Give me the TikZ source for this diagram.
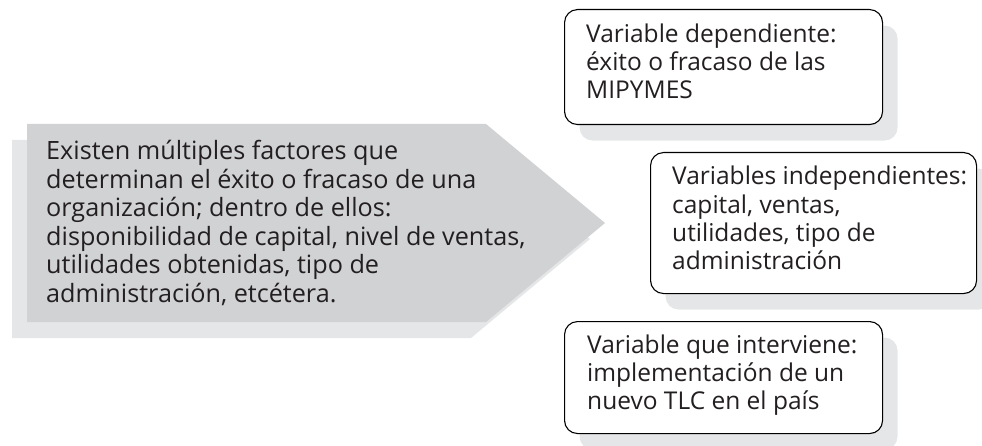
\documentclass[tikz,border=0pt]{standalone}
\usepackage{fontspec}
\setmainfont{Open Sans}
\usetikzlibrary{shadows}
\definecolor{arrowgray}{RGB}{209,210,212}
\definecolor{shadegray}{RGB}{229,230,231}
\definecolor{inkgray}{RGB}{35,31,32}
\tikzset{
  txt/.style={inner sep=0pt, anchor=base west, text=inkgray, font=\fontsize{24.5}{28.2}\selectfont},
  bigtxt/.style={txt, font=\fontsize{25.2}{28.5}\selectfont},
  boxshape/.style={draw=black, line width=1.1pt, fill=white, rounded corners=13pt, inner sep=0pt,
    anchor=north west,
    general shadow={fill=shadegray, draw=none, shadow xshift=15pt, shadow yshift=-16pt}},
}
\newcommand{\tlines}[2]{\parbox[t]{#1}{\raggedright #2}}
\begin{document}
\begin{tikzpicture}[x=1pt,y=-1pt]
\useasboundingbox (0,0) rectangle (982,446);
% big arrow with shadow
\fill[shadegray] (12,140) -- (471,140) -- (590,239) -- (471,338) -- (12,338) -- cycle;
\fill[arrowgray] (27,124) -- (486,124) -- (605,223) -- (486,322) -- (27,322) -- cycle;
\node[bigtxt] (factores) at (46,160) {\tlines{520pt}{Existen múltiples factores que\\determinan el éxito o fracaso de una\\organización; dentro de ellos:\\disponibilidad de capital, nivel de ventas,\\utilidades obtenidas, tipo de\\administración, etcétera.}};
% boxes
\node[boxshape, minimum width=318pt, minimum height=115pt] (dep) at (564,9) {};
\node[txt] (deptext) at (586,42.5) {\tlines{300pt}{Variable dependiente:\\éxito o fracaso de las\\MIPYMES}};
\node[boxshape, minimum width=326pt, minimum height=141pt] (ind) at (650,152) {};
\node[txt] (indtext) at (672,185) {\tlines{310pt}{Variables independientes:\\capital, ventas,\\utilidades, tipo de\\administración}};
\node[boxshape, minimum width=318pt, minimum height=112pt] (int) at (564,321) {};
\node[txt] (inttext) at (587,353) {\tlines{300pt}{Variable que interviene:\\implementación de un\\nuevo TLC en el país}};
\end{tikzpicture}
\end{document}
